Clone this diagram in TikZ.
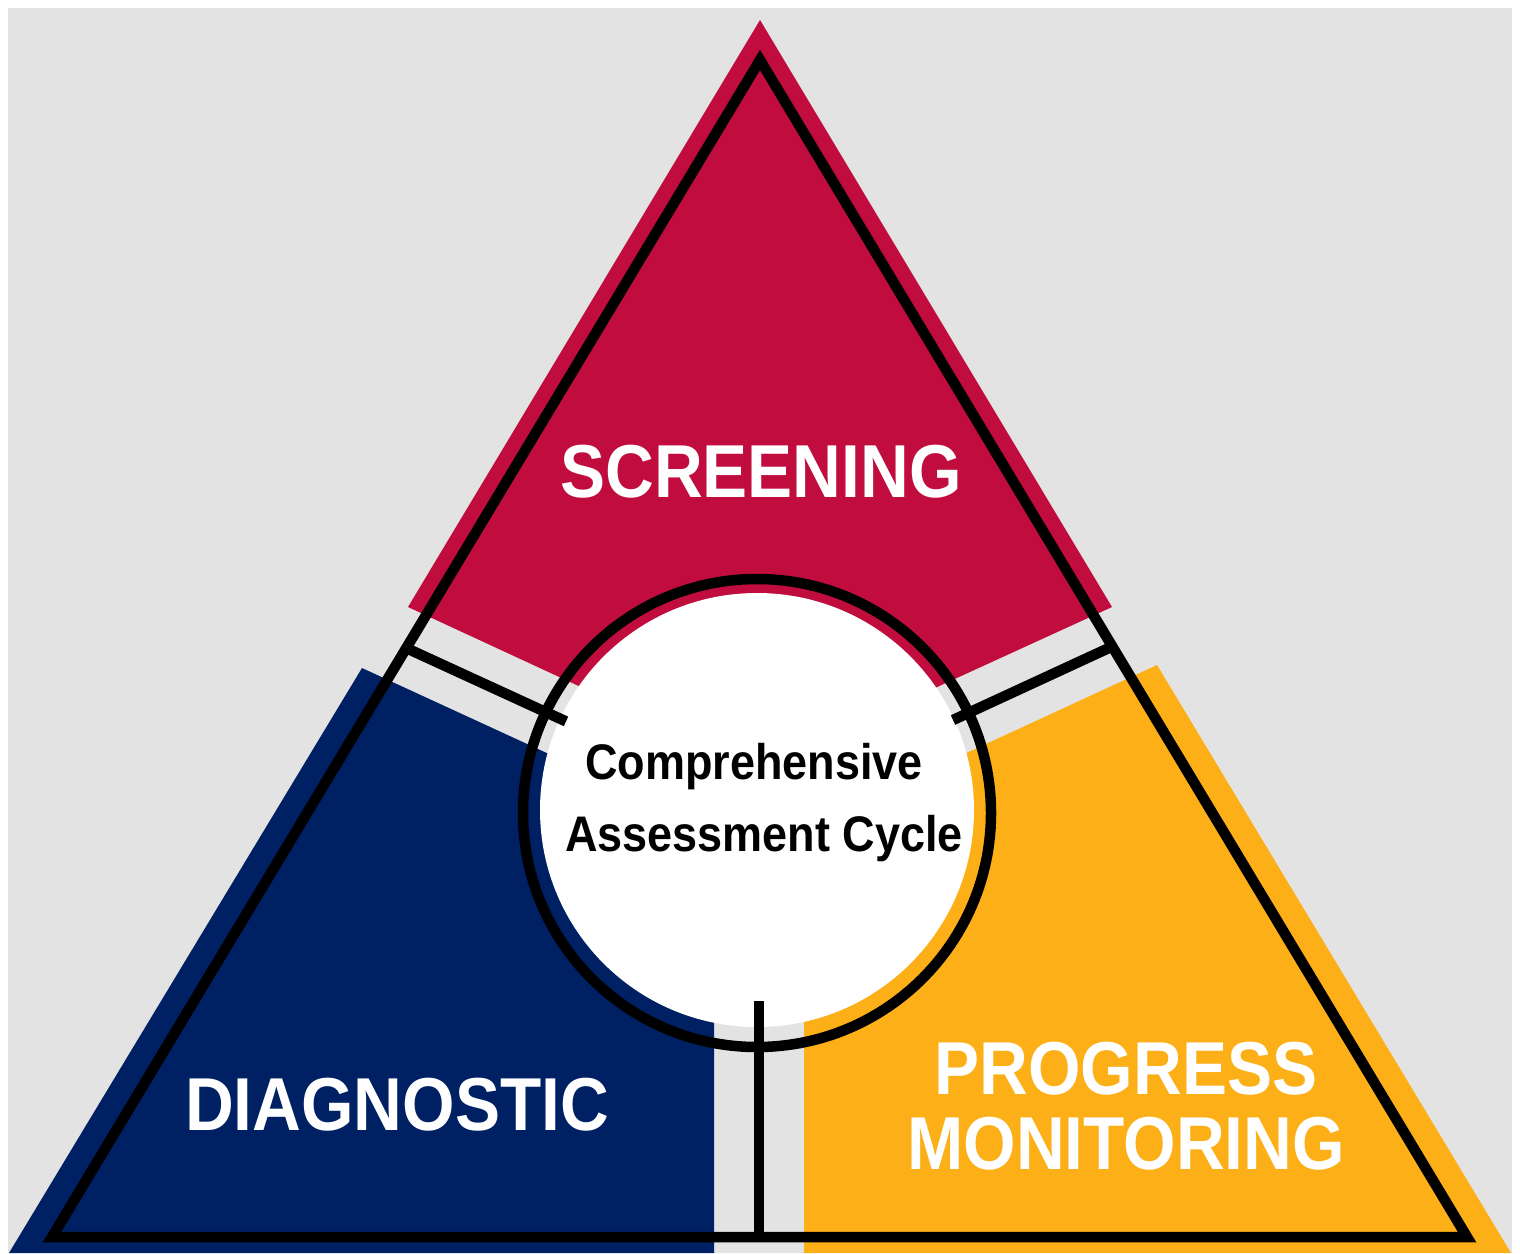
\documentclass[tikz,border=0pt]{standalone}
\usepackage{fontspec}
\newfontfamily\labelfont[FakeStretch=0.9]{Liberation Sans}
\definecolor{screenred}{HTML}{C00D3E}
\definecolor{diagblue}{HTML}{002064}
\definecolor{progyellow}{HTML}{FCAF17}
\definecolor{backgray}{HTML}{E3E3E3}
\begin{document}
\begin{tikzpicture}[x=1pt,y=-1pt,
    outline/.style={line width=10.5pt},
    biglabel/.style={text=white,inner sep=0pt,anchor=base,
      font=\labelfont\bfseries\fontsize{75}{75}\selectfont},
    midlabel/.style={text=black,inner sep=0pt,anchor=base,
      font=\labelfont\bfseries\fontsize{50}{50}\selectfont}]
  \useasboundingbox (0,0) rectangle (1520,1253);
  \fill[backgray] (8,8) rectangle (1512,1253);
  % coloured parts
  \fill[screenred] (760,20) -- (408,607) -- (758,769) -- (1112,607) -- cycle;
  \fill[diagblue] (362,668) -- (714,830) -- (714,1253) -- (9,1253) -- cycle;
  \fill[progyellow] (1157,665) -- (804,828) -- (804,1253) -- (1511,1253) -- cycle;
  \fill[white] (757,810) circle (217);
  % outline and ring
  \coordinate (top) at (760,60);
  \coordinate (left) at (52,1237);
  \coordinate (right) at (1467,1237);
  \draw[outline] (top) -- (left) -- (right) -- cycle;
  \coordinate (hub) at (757,813);
  \draw[outline] (hub) circle (234);
  % separators
  \coordinate (lout) at (406.5,648.2);
  \coordinate (lin) at (566,721.4);
  \coordinate (rout) at (1112.6,646.3);
  \coordinate (rin) at (953,720);
  \coordinate (bin) at (759,1001);
  \coordinate (bout) at (759,1237);
  \draw[outline] (lout) -- (lin);
  \draw[outline] (rout) -- (rin);
  \draw[outline] (bin) -- (bout);
  % labels
  \node[biglabel] (screening) at (761,497) {SCREENING};
  \node[biglabel] (diagnostic) at (397,1130) {DIAGNOSTIC};
  \node[biglabel] (progress) at (1126,1094) {PROGRESS};
  \node[biglabel] (monitoring) at (1126,1169) {MONITORING};
  \node[midlabel] (comp) at (754,779) {Comprehensive};
  \node[midlabel] (cycle) at (764,851) {Assessment Cycle};
\end{tikzpicture}
\end{document}
